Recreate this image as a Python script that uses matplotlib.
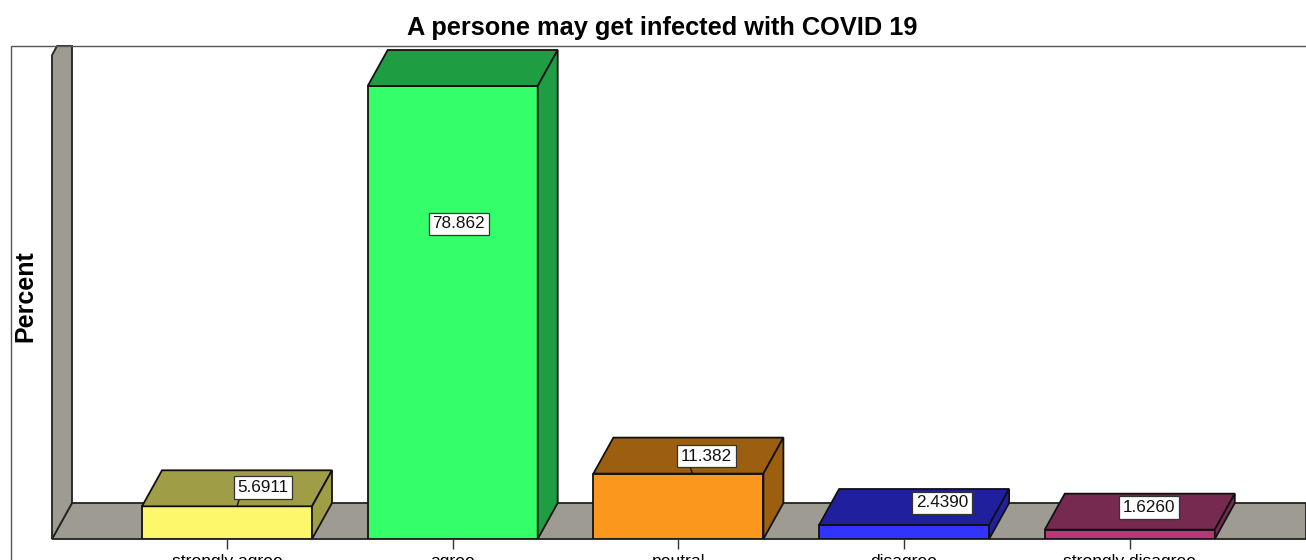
import matplotlib
matplotlib.use("Agg")
import matplotlib.pyplot as plt
from matplotlib.patches import Polygon, Rectangle

plt.rcParams['font.family'] = ['Liberation Sans', 'DejaVu Sans']

# data
categories = ['strongly agree', 'agree', 'neutral', 'disagree', 'strongly disagree']
percent = [5.6911, 78.862, 11.382, 2.4390, 1.6260]
value_labels = ['5.6911', '78.862', '11.382', '2.4390', '1.6260']
front_colors = ['#fdf76b', '#35ff68', '#fc971e', '#3333ff', '#ba3676']
shade_colors = ['#a09d47', '#1f9d42', '#9c5f10', '#20209f', '#762a50']
wall_color = '#9e9b93'

W, H = 1306, 560
fig = plt.figure(figsize=(W / 100, H / 100), dpi=100)

# axes box in pixels of the picture
left, right, top, base = 52, 1306, 46, 539
ax = fig.add_axes([left / W, 1 - base / H, (right - left) / W, (base - top) / H])
px_per_pct = (539 - 86) / 78.862
px_per_cat = 225.7
ax.set_ylim(0, (base - top) / px_per_pct)
ax.set_xlim((left - 227) / px_per_cat, (right - 227) / px_per_cat)

# depth of the fake 3d, in data units
dx = 20 / px_per_cat
dy = 36 / px_per_pct
dx_wall = 20 / px_per_cat
half = 85 / px_per_cat
x0, x1 = ax.get_xlim()
y1 = ax.get_ylim()[1]

# outer frame of the plot
fig.add_artist(Rectangle((11 / W, -0.01), (W + 20) / W, 1 - 46 / H + 0.01, transform=fig.transFigure,
                         fill=False, ec='#555555', lw=1.0))

# floor and back wall
ax.add_patch(Polygon([(x0, 0), (x0 + dx_wall, dy), (x1, dy), (x1, 0)], fc=wall_color, ec='#222222', lw=1.3, clip_on=False))
ax.add_patch(Polygon([(x0, 0), (x0, y1 - 1.6), (x0 + 5 / px_per_cat, y1), (x0 + dx_wall, y1), (x0 + dx_wall, dy)],
                     fc=wall_color, ec='#222222', lw=1.3, clip_on=False))

xs = list(range(len(categories)))
ax.bar(xs, percent, width=2 * half, color=front_colors, edgecolor='#111111', linewidth=1.3, zorder=3)
for x, v, c in zip(xs, percent, shade_colors):
    ax.add_patch(Polygon([(x - half, v), (x - half + dx, v + dy), (x + half + dx, v + dy), (x + half, v)],
                         fc=c, ec='#111111', lw=1.3, zorder=3, clip_on=False))
    ax.add_patch(Polygon([(x + half, 0), (x + half + dx, dy), (x + half + dx, v + dy), (x + half, v)],
                         fc=c, ec='#111111', lw=1.3, zorder=3, clip_on=False))

# value boxes, offset from the front top centre of each bar (pixels)
box_off = [(36, 19), (6, -138), (28, 17.5), (38, 22), (19, 22)]
leader_off = [10, None, 14, None, None]
for x, v, t, (ox, oy), lead in zip(xs, percent, value_labels, box_off, leader_off):
    bx, by = x + ox / px_per_cat, v + oy / px_per_pct
    if lead is not None:
        ax.plot([x + lead / px_per_cat, bx - 20 / px_per_cat], [v, by], color='#111111', lw=1, zorder=4)
    ax.text(bx, by, t, ha='center', va='center', fontsize=12.3, zorder=5,
            color='#111111', bbox=dict(boxstyle='square,pad=0.22', fc='white', ec='#333333', lw=0.9))

for s in ax.spines.values():
    s.set_visible(False)
ax.patch.set_alpha(0)
ax.set_yticks([])
ax.set_xticks(xs)
ax.set_xticklabels(categories, fontsize=12.6)
ax.tick_params(axis='x', length=7.5, width=1, color='#333333', pad=3)

fig.text(662.5 / W, 1 - 28 / H, 'A persone may get infected with COVID 19', ha='center', va='center',
         fontsize=18.3, fontweight='bold')
fig.text(25 / W, 1 - 296 / H, 'Percent', rotation=90, ha='center', va='center', fontsize=18, fontweight='bold')

fig.savefig('out.png', dpi=100)
